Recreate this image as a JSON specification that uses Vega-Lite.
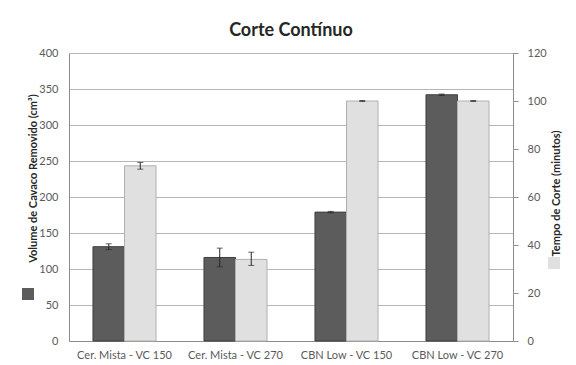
{
  "$schema": "https://vega.github.io/schema/vega-lite/v6.json",
  "width": 444,
  "height": 288,
  "autosize": "none",
  "padding": {"left": 69, "top": 53, "right": 63, "bottom": 24},
  "background": "white",
  "config": {
    "view": {"stroke": null},
    "font": "Lato",
    "axis": {"labelFont": "Lato", "titleFont": "Lato", "labelColor": "#595959", "labelFontSize": 11, "domainColor": "#8c8c8c", "tickColor": "#8c8c8c"}
  },
  "title": {"text": "Corte Contínuo", "fontSize": 18, "fontWeight": "bold", "color": "#262626", "offset": 7, "anchor": "middle", "font": "Lato"},
  "data": {
    "values": [
      {"categoria": "Cer. Mista - VC 150", "serie": "Volume", "valor": 131, "lo": 127, "hi": 135},
      {"categoria": "Cer. Mista - VC 270", "serie": "Volume", "valor": 116, "lo": 103, "hi": 129},
      {"categoria": "CBN Low - VC 150", "serie": "Volume", "valor": 179, "lo": 178, "hi": 180},
      {"categoria": "CBN Low - VC 270", "serie": "Volume", "valor": 342, "lo": 341, "hi": 343},
      {"categoria": "Cer. Mista - VC 150", "serie": "Tempo", "valor": 73, "lo": 71.6, "hi": 74.4},
      {"categoria": "Cer. Mista - VC 270", "serie": "Tempo", "valor": 34, "lo": 31.5, "hi": 37},
      {"categoria": "CBN Low - VC 150", "serie": "Tempo", "valor": 100, "lo": 99.8, "hi": 100.2},
      {"categoria": "CBN Low - VC 270", "serie": "Tempo", "valor": 100, "lo": 99.8, "hi": 100.2}
    ]
  },
  "encoding": {
    "x": {
      "field": "categoria", "type": "nominal", "sort": null,
      "scale": {"paddingInner": 0.432, "paddingOuter": 0.216},
      "axis": {"title": null, "labelAngle": 0, "ticks": false, "labelPadding": 8}
    },
    "xOffset": {"field": "serie", "type": "nominal", "scale": {"domain": ["Volume", "Tempo"], "paddingInner": 0, "paddingOuter": 0}}
  },
  "layer": [
    {
      "transform": [{"filter": "datum.serie === 'Volume'"}],
      "encoding": {
        "y": {
          "field": "valor", "type": "quantitative",
          "scale": {"domain": [0, 400], "nice": false},
          "axis": {
            "values": [0, 50, 100, 150, 200, 250, 300, 350, 400],
            "title": "Volume de Cavaco Removido (cm³)",
            "titleFontSize": 11, "titleFontWeight": "bold", "titleColor": "#262626",
            "titleAngle": -90, "titleX": -36, "titleY": 125, "titleBaseline": "middle", "titleAlign": "center",
            "grid": true, "gridColor": "#b5b5b5", "ticks": false, "labelPadding": 11
          }
        }
      },
      "layer": [
        {
          "mark": {"type": "bar", "stroke": "#3f3f3f", "strokeWidth": 1},
          "encoding": {
            "color": {
              "field": "serie", "type": "nominal",
              "scale": {"domain": ["Volume"], "range": ["#5c5c5c"]},
              "legend": {"orient": "none", "legendX": -47, "legendY": 235, "title": null, "labelExpr": "''", "symbolType": "square", "symbolSize": 144, "symbolStrokeWidth": 0, "padding": 0, "symbolOpacity": 1}
            }
          }
        },
        {"mark": {"type": "rule", "color": "#262626"}, "encoding": {"y": {"field": "lo", "type": "quantitative"}, "y2": {"field": "hi"}}},
        {"mark": {"type": "tick", "color": "#262626", "size": 6, "thickness": 1}, "encoding": {"y": {"field": "lo", "type": "quantitative"}}},
        {"mark": {"type": "tick", "color": "#262626", "size": 6, "thickness": 1}, "encoding": {"y": {"field": "hi", "type": "quantitative"}}}
      ]
    },
    {
      "transform": [{"filter": "datum.serie === 'Tempo'"}],
      "encoding": {
        "y": {
          "field": "valor", "type": "quantitative",
          "scale": {"domain": [0, 120], "nice": false},
          "axis": {
            "orient": "right",
            "values": [0, 20, 40, 60, 80, 100, 120],
            "title": "Tempo de Corte (minutos)",
            "titleFontSize": 11, "titleFontWeight": "bold", "titleColor": "#262626",
            "titleAngle": -90, "titleX": 43, "titleY": 140, "titleBaseline": "middle", "titleAlign": "center",
            "grid": false, "ticks": true, "tickSize": 5, "labelPadding": 9
          }
        }
      },
      "layer": [
        {
          "mark": {"type": "bar", "stroke": "#b0b0b0", "strokeWidth": 1},
          "encoding": {
            "color": {
              "field": "serie", "type": "nominal",
              "scale": {"domain": ["Tempo"], "range": ["#e0e0e0"]},
              "legend": {"orient": "none", "legendX": 479, "legendY": 204, "title": null, "labelExpr": "''", "symbolType": "square", "symbolSize": 144, "symbolStrokeWidth": 0, "padding": 0, "symbolOpacity": 1}
            }
          }
        },
        {"mark": {"type": "rule", "color": "#262626"}, "encoding": {"y": {"field": "lo", "type": "quantitative"}, "y2": {"field": "hi"}}},
        {"mark": {"type": "tick", "color": "#262626", "size": 6, "thickness": 1}, "encoding": {"y": {"field": "lo", "type": "quantitative"}}},
        {"mark": {"type": "tick", "color": "#262626", "size": 6, "thickness": 1}, "encoding": {"y": {"field": "hi", "type": "quantitative"}}}
      ]
    }
  ],
  "resolve": {"scale": {"y": "independent", "color": "independent"}}
}
